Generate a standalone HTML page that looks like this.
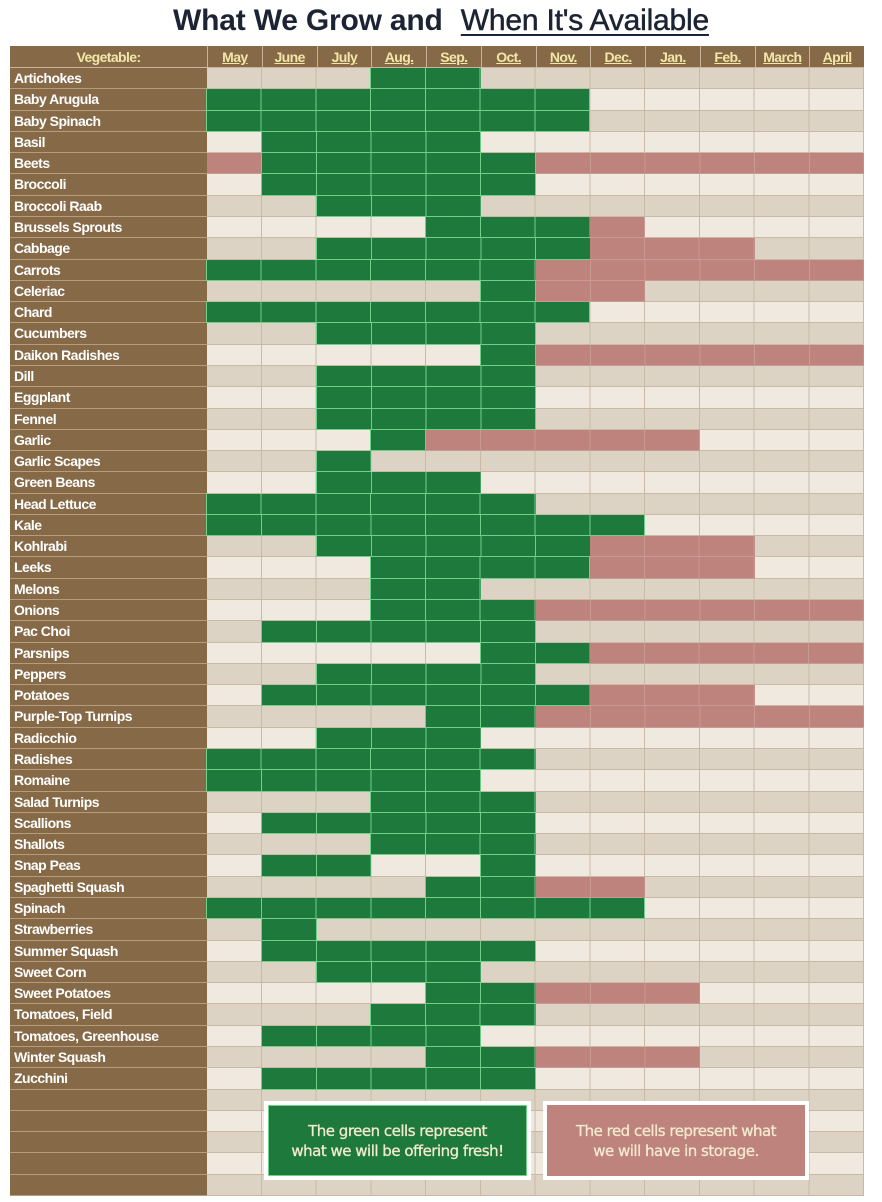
<!DOCTYPE html>
<html><head><meta charset="utf-8"><style>
*{margin:0;padding:0;box-sizing:border-box}
body{width:882px;height:1202px;background:#fff;position:relative;overflow:hidden;font-family:"Liberation Sans",sans-serif}
h1{position:absolute;top:4px;left:0;width:882px;text-align:center;font-size:30px;color:#1c2333;font-weight:bold;letter-spacing:-0.2px;white-space:nowrap}
h1 span{font-weight:normal;text-decoration:underline;text-decoration-thickness:2px;text-underline-offset:4px;margin-left:10px;-webkit-text-stroke:0.5px #1c2333}
#t{position:absolute;left:10px;top:46px;width:854px}
.h{height:22px;background:#866a48;position:relative;display:flex;box-shadow:inset 0 -1px #c9b39a}
.h div{color:#f2e6a8;font-weight:bold;font-size:14px;text-align:center;line-height:22px;text-decoration:underline;border-left:1px solid #c9b39a;width:54.75px;letter-spacing:-0.6px}
.h div.v{width:197px;border-left:none;text-decoration:none}
.r{height:21.283px;position:relative;background:repeating-linear-gradient(90deg,transparent 0 53.75px,#c9b9a5 53.75px 54.75px) 197px 0/657px 100% no-repeat,var(--bg);box-shadow:inset 0 -1px #c9b9a5}
.d{--bg:#ddd3c5}.l{--bg:#efe9e0}
.r b{position:absolute;left:0;top:0;width:197px;height:100%;background:#866a48;color:#fff;font-size:14px;line-height:21px;padding-left:4px;letter-spacing:-0.5px;box-shadow:inset 0 -1px #b59c7c}
.r i,.r u{position:absolute;top:0;height:100%;left:calc(197px + var(--s)*54.75px);width:calc(var(--n)*54.75px)}
.r i{background:repeating-linear-gradient(90deg,#1e7a3c 0 53.75px,#6fd08a 53.75px 54.75px);box-shadow:inset 0 -1px #6fd08a,-1px 0 #6fd08a}
.r u{background:repeating-linear-gradient(90deg,#bd837c 0 53.75px,#c99a93 53.75px 54.75px);box-shadow:inset 0 -1px #c99a93}
.lg{position:absolute;background:#fff;padding:4px}
.lg div{height:100%;color:#f3ead0;font-family:"DejaVu Sans",sans-serif;font-size:15px;text-align:center;display:flex;align-items:center;justify-content:center;line-height:20px;letter-spacing:-0.5px;-webkit-text-stroke:0.3px #f3ead0}
</style></head><body>
<h1>What We Grow and <span>When It's Available</span></h1>
<div id="t">
<div class="h"><div class="v">Vegetable:</div><div>May</div><div>June</div><div>July</div><div>Aug.</div><div>Sep.</div><div>Oct.</div><div>Nov.</div><div>Dec.</div><div>Jan.</div><div>Feb.</div><div>March</div><div>April</div></div>
<div class="r d"><b>Artichokes</b><i style="--s:3;--n:2"></i></div>
<div class="r l"><b>Baby Arugula</b><i style="--s:0;--n:7"></i></div>
<div class="r d"><b>Baby Spinach</b><i style="--s:0;--n:7"></i></div>
<div class="r l"><b>Basil</b><i style="--s:1;--n:4"></i></div>
<div class="r d"><b>Beets</b><u style="--s:0;--n:1"></u><i style="--s:1;--n:5"></i><u style="--s:6;--n:6"></u></div>
<div class="r l"><b>Broccoli</b><i style="--s:1;--n:5"></i></div>
<div class="r d"><b>Broccoli Raab</b><i style="--s:2;--n:3"></i></div>
<div class="r l"><b>Brussels Sprouts</b><i style="--s:4;--n:3"></i><u style="--s:7;--n:1"></u></div>
<div class="r d"><b>Cabbage</b><i style="--s:2;--n:5"></i><u style="--s:7;--n:3"></u></div>
<div class="r l"><b>Carrots</b><i style="--s:0;--n:6"></i><u style="--s:6;--n:6"></u></div>
<div class="r d"><b>Celeriac</b><i style="--s:5;--n:1"></i><u style="--s:6;--n:2"></u></div>
<div class="r l"><b>Chard</b><i style="--s:0;--n:7"></i></div>
<div class="r d"><b>Cucumbers</b><i style="--s:2;--n:4"></i></div>
<div class="r l"><b>Daikon Radishes</b><i style="--s:5;--n:1"></i><u style="--s:6;--n:6"></u></div>
<div class="r d"><b>Dill</b><i style="--s:2;--n:4"></i></div>
<div class="r l"><b>Eggplant</b><i style="--s:2;--n:4"></i></div>
<div class="r d"><b>Fennel</b><i style="--s:2;--n:4"></i></div>
<div class="r l"><b>Garlic</b><i style="--s:3;--n:1"></i><u style="--s:4;--n:5"></u></div>
<div class="r d"><b>Garlic Scapes</b><i style="--s:2;--n:1"></i></div>
<div class="r l"><b>Green Beans</b><i style="--s:2;--n:3"></i></div>
<div class="r d"><b>Head Lettuce</b><i style="--s:0;--n:6"></i></div>
<div class="r l"><b>Kale</b><i style="--s:0;--n:8"></i></div>
<div class="r d"><b>Kohlrabi</b><i style="--s:2;--n:5"></i><u style="--s:7;--n:3"></u></div>
<div class="r l"><b>Leeks</b><i style="--s:3;--n:4"></i><u style="--s:7;--n:3"></u></div>
<div class="r d"><b>Melons</b><i style="--s:3;--n:2"></i></div>
<div class="r l"><b>Onions</b><i style="--s:3;--n:3"></i><u style="--s:6;--n:6"></u></div>
<div class="r d"><b>Pac Choi</b><i style="--s:1;--n:5"></i></div>
<div class="r l"><b>Parsnips</b><i style="--s:5;--n:2"></i><u style="--s:7;--n:5"></u></div>
<div class="r d"><b>Peppers</b><i style="--s:2;--n:4"></i></div>
<div class="r l"><b>Potatoes</b><i style="--s:1;--n:6"></i><u style="--s:7;--n:3"></u></div>
<div class="r d"><b>Purple-Top Turnips</b><i style="--s:4;--n:2"></i><u style="--s:6;--n:6"></u></div>
<div class="r l"><b>Radicchio</b><i style="--s:2;--n:3"></i></div>
<div class="r d"><b>Radishes</b><i style="--s:0;--n:6"></i></div>
<div class="r l"><b>Romaine</b><i style="--s:0;--n:5"></i></div>
<div class="r d"><b>Salad Turnips</b><i style="--s:3;--n:3"></i></div>
<div class="r l"><b>Scallions</b><i style="--s:1;--n:5"></i></div>
<div class="r d"><b>Shallots</b><i style="--s:3;--n:3"></i></div>
<div class="r l"><b>Snap Peas</b><i style="--s:1;--n:2"></i><i style="--s:5;--n:1"></i></div>
<div class="r d"><b>Spaghetti Squash</b><i style="--s:4;--n:2"></i><u style="--s:6;--n:2"></u></div>
<div class="r l"><b>Spinach</b><i style="--s:0;--n:8"></i></div>
<div class="r d"><b>Strawberries</b><i style="--s:1;--n:1"></i></div>
<div class="r l"><b>Summer Squash</b><i style="--s:1;--n:5"></i></div>
<div class="r d"><b>Sweet Corn</b><i style="--s:2;--n:3"></i></div>
<div class="r l"><b>Sweet Potatoes</b><i style="--s:4;--n:2"></i><u style="--s:6;--n:3"></u></div>
<div class="r d"><b>Tomatoes, Field</b><i style="--s:3;--n:3"></i></div>
<div class="r l"><b>Tomatoes, Greenhouse</b><i style="--s:1;--n:4"></i></div>
<div class="r d"><b>Winter Squash</b><i style="--s:4;--n:2"></i><u style="--s:6;--n:3"></u></div>
<div class="r l"><b>Zucchini</b><i style="--s:1;--n:5"></i></div>
<div class="r d"><b></b></div>
<div class="r l"><b></b></div>
<div class="r d"><b></b></div>
<div class="r l"><b></b></div>
<div class="r d"><b></b></div>
</div>
<div class="lg" style="left:264px;top:1101px;width:267px;height:79px"><div style="background:#1e7a3c;box-shadow:inset 0 0 0 1px #6fd08a">The green cells represent<br>what we will be offering fresh!</div></div>
<div class="lg" style="left:543px;top:1101px;width:266px;height:79px"><div style="background:#bd837c">The red cells represent what<br>we will have in storage.</div></div>
</body></html>
